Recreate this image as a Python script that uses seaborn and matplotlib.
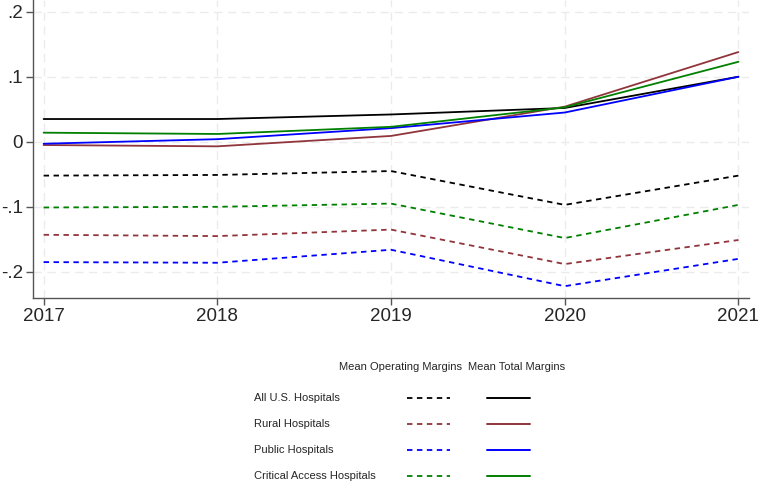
import numpy as np
import pandas as pd
import matplotlib
matplotlib.use("Agg")
import matplotlib.pyplot as plt
import seaborn as sns
from matplotlib.lines import Line2D

years = [2017, 2018, 2019, 2020, 2021]
groups = ["All U.S. Hospitals", "Rural Hospitals", "Public Hospitals", "Critical Access Hospitals"]

total_all = [0.035, 0.035, 0.042, 0.052, 0.100]
total_rural = [-0.005, -0.007, 0.009, 0.054, 0.138]
total_public = [-0.003, 0.004, 0.021, 0.045, 0.100]
total_cah = [0.014, 0.012, 0.023, 0.053, 0.123]

oper_all = [-0.052, -0.051, -0.045, -0.097, -0.052]
oper_rural = [-0.143, -0.145, -0.135, -0.188, -0.151]
oper_public = [-0.185, -0.186, -0.166, -0.222, -0.180]
oper_cah = [-0.101, -0.100, -0.095, -0.148, -0.097]

colors = ["#000000", "#90353B", "#0000FF", "#008000"]

rows = []
for g, tot, op in zip(groups,
                      [total_all, total_rural, total_public, total_cah],
                      [oper_all, oper_rural, oper_public, oper_cah]):
    for y, t, o in zip(years, tot, op):
        rows.append({"year": y, "group": g, "measure": "Mean Operating Margins", "value": o})
        rows.append({"year": y, "group": g, "measure": "Mean Total Margins", "value": t})
df = pd.DataFrame(rows)

sns.set_style("white")
plt.rcParams["font.family"] = ["Liberation Sans", "DejaVu Sans"]

fig = plt.figure(figsize=(7.6, 4.94), dpi=100)
ax = fig.add_axes([0.043, 0.397, 0.943, 0.603])

sns.lineplot(data=df, x="year", y="value", hue="group", style="measure",
             hue_order=groups, palette=colors,
             style_order=["Mean Operating Margins", "Mean Total Margins"],
             dashes={"Mean Operating Margins": (3, 2.5), "Mean Total Margins": ""},
             linewidth=1.3, legend=False, ax=ax)

ax.set_xlim(2016.937, 2021.063)
ax.set_ylim(-0.24, 0.218)
ax.set_xticks(years)
ax.set_yticks([-0.2, -0.1, 0, 0.1, 0.2])
ax.set_yticklabels(["-.2", "-.1", "0", ".1", ".2"])
ax.set_xlabel("")
ax.set_ylabel("")
ax.grid(True, color="#ebebeb", linestyle=(0, (6, 4)), linewidth=1)
for s in ["top", "right"]:
    ax.spines[s].set_visible(False)
for s in ["left", "bottom"]:
    ax.spines[s].set_color("#555555")
    ax.spines[s].set_linewidth(1)
ax.tick_params(axis="both", labelsize=13.5, length=5, width=1, color="#555555",
               direction="out", left=True, bottom=True, pad=2)

# legend table below the chart
fs = 8
fig.text(339 / 760, 1 - 367 / 494, "Mean Operating Margins", fontsize=fs, va="center")
fig.text(468 / 760, 1 - 367 / 494, "Mean Total Margins", fontsize=fs, va="center")
row_y = [398, 424, 450, 476]
for g, c, ry in zip(groups, colors, row_y):
    yy = 1 - ry / 494
    fig.text(254 / 760, yy, g, fontsize=fs, va="center")
    fig.add_artist(Line2D([407 / 760, 450 / 760], [yy, yy], color=c, lw=1.3,
                          linestyle=(0, (3, 2.5)), transform=fig.transFigure))
    fig.add_artist(Line2D([487 / 760, 530 / 760], [yy, yy], color=c, lw=1.4,
                          transform=fig.transFigure))

fig.savefig("out.png", dpi=100)
